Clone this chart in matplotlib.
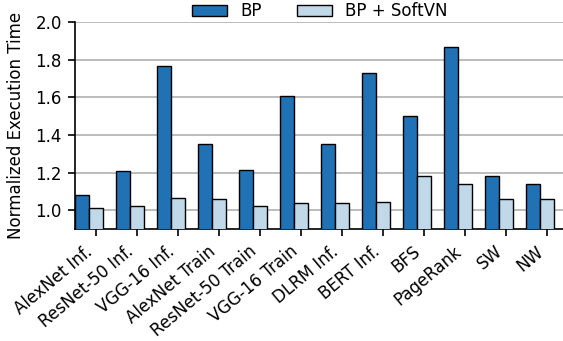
import numpy as np
import matplotlib
matplotlib.use("Agg")
import matplotlib.pyplot as plt

workloads = ["AlexNet Inf.", "ResNet-50 Inf.", "VGG-16 Inf.", "AlexNet Train",
             "ResNet-50 Train", "VGG-16 Train", "DLRM Inf.", "BERT Inf.",
             "BFS", "PageRank", "SW", "NW"]
bp = [1.08, 1.21, 1.765, 1.35, 1.215, 1.605, 1.35, 1.73, 1.50, 1.87, 1.185, 1.14]
bp_softvn = [1.01, 1.025, 1.065, 1.06, 1.025, 1.04, 1.04, 1.045, 1.18, 1.14, 1.06, 1.06]

plt.rcParams["font.family"] = "DejaVu Sans"

fig = plt.figure(figsize=(5.63, 3.41), dpi=100)
ax = fig.add_axes([0.133, 0.328, 0.88, 0.607])

x = np.arange(len(workloads))
w = 0.34
ax.bar(x, bp, w, color="#2171b5", edgecolor="black", linewidth=1, label="BP", zorder=3)
ax.bar(x + w, bp_softvn, w, color="#c0d8e8", edgecolor="black", linewidth=1,
       label="BP + SoftVN", zorder=3)

ax.set_xticks(x + w)
ax.set_xticklabels(workloads, rotation=40, ha="right", fontsize=12)
ax.set_xlim(-w / 2, 11.9)
ax.set_ylim(0.9, 2.0)
ax.set_yticks([1.0, 1.2, 1.4, 1.6, 1.8, 2.0])
ax.tick_params(axis="both", labelsize=12, length=5, width=1.2, pad=4.5)
ax.set_ylabel("Normalized Execution Time", fontsize=12, labelpad=7)
ax.yaxis.grid(True, color="#b0b0b0", linewidth=1.2, zorder=0)
ax.spines["top"].set_visible(False)
ax.spines["right"].set_visible(False)
ax.spines["left"].set_linewidth(1.2)
ax.spines["bottom"].set_linewidth(1.2)

ax.legend(ncol=2, loc="center", bbox_to_anchor=(0.495, 1.053), frameon=False,
          fontsize=12, handlelength=2.1, handletextpad=0.8, columnspacing=2.1)

fig.savefig("out.png", dpi=100)
